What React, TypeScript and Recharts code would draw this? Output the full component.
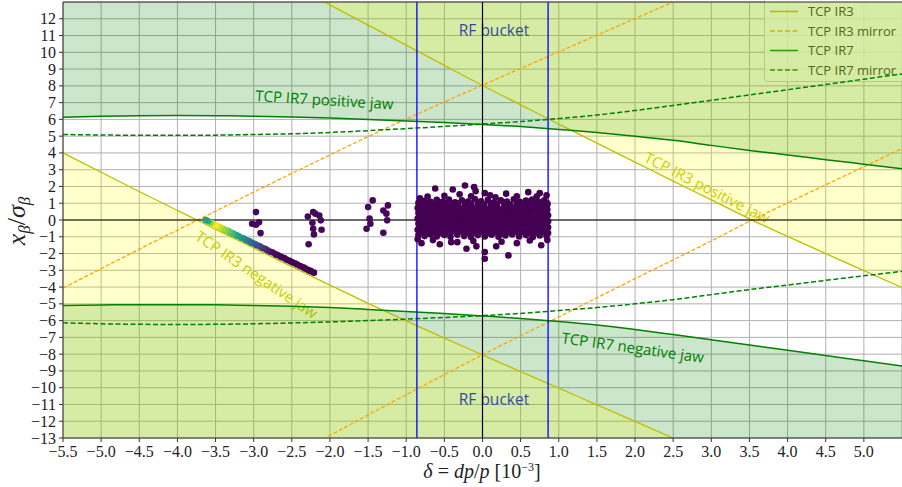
import React from "react";
import {
  ComposedChart,
  Area,
  Line,
  Scatter,
  XAxis,
  YAxis,
  CartesianGrid,
  ReferenceLine,
  Customized,
} from "recharts";

// momentum offset grid [1e-3]
const delta = [-5.5, -5, -4.5, -4, -3.5, -3, -2.5, -2, -1.5, -1, -0.5, 0, 0.5, 1, 1.5, 2, 2.5, 3, 3.5, 4, 4.5, 5, 5.5];

// TCP IR3 jaws and mirrors (x_beta / sigma)
const ir3Pos = [null, null, null, null, null, 15.25, 14.05, 12.83, 11.62, 10.43, 9.22, 8.02, 6.87, 5.72, 4.58, 3.45, 2.32, 1.2, 0.07, -0.98, -2.0, -3.02, -4.03];
const ir3Neg = [4.0, 2.85, 1.7, 0.57, -0.55, -1.67, -2.78, -3.88, -4.97, -6.02, -7.04, -8.04, -9.04, -10.03, -11.02, -12.01, -13.0, -13.98, null, null, null, null, null];
const ir3PosMirror = [null, null, null, null, null, -15.2, -14.05, -12.85, -11.62, -10.42, -9.22, -8.04, -6.9, -5.78, -4.64, -3.5, -2.38, -1.25, -0.08, 1.02, 2.1, 3.18, 4.26];
const ir3NegMirror = [-4.06, -2.9, -1.74, -0.6, 0.53, 1.66, 2.78, 3.88, 4.97, 6.02, 7.04, 8.04, 9.04, 10.03, 11.02, 12.01, 13.0, 13.98, null, null, null, null, null];

// TCP IR7 jaws and mirrors
const ir7Pos = [6.13, 6.19, 6.22, 6.23, 6.22, 6.19, 6.14, 6.08, 6.0, 5.91, 5.81, 5.7, 5.57, 5.4, 5.22, 5.0, 4.75, 4.45, 4.15, 3.88, 3.6, 3.33, 3.06];
const ir7Neg = [-5.1, -5.07, -5.05, -5.05, -5.06, -5.1, -5.14, -5.22, -5.33, -5.45, -5.58, -5.72, -5.87, -6.05, -6.26, -6.53, -6.83, -7.14, -7.46, -7.77, -8.08, -8.4, -8.71];
const ir7PosMirror = [5.1, 5.07, 5.05, 5.05, 5.06, 5.1, 5.14, 5.22, 5.33, 5.45, 5.58, 5.72, 5.87, 6.05, 6.26, 6.53, 6.83, 7.14, 7.46, 7.77, 8.08, 8.4, 8.71];
const ir7NegMirror = [-6.13, -6.19, -6.22, -6.23, -6.22, -6.19, -6.14, -6.08, -6.0, -5.91, -5.81, -5.7, -5.57, -5.4, -5.22, -5.0, -4.75, -4.45, -4.15, -3.88, -3.6, -3.33, -3.06];

const rfBucket = 0.86;

// particles inside the bucket
const bucketParticles = [
  [-0.84, 1.02], [-0.76, 1.15], [-0.68, 1.08], [-0.6, 1.2], [-0.52, 1.1], [-0.44, 1.22], [-0.36, 1.06], [-0.27, 1.18], [-0.19, 1.1], [-0.1, 1.25], [-0.02, 1.12], [0.07, 1.2], [0.15, 1.06], [0.24, 1.18], [0.32, 1.1], [0.41, 1.24], [0.49, 1.08], [0.57, 1.16], [0.65, 1.22], [0.73, 1.1], [0.81, 1.17], [0.85, 1.0],
  [-0.8, 0.96], [-0.72, 1.0], [-0.64, 0.94], [-0.56, 1.02], [-0.48, 0.92], [-0.4, 0.98], [-0.32, 1.0], [-0.23, 0.94], [-0.15, 0.98], [-0.06, 1.02], [0.02, 0.94], [0.11, 1.0], [0.19, 0.96], [0.28, 1.02], [0.36, 0.94], [0.45, 0.98], [0.53, 1.0], [0.61, 0.94], [0.69, 0.98], [0.77, 1.0], [0.85, 0.92],
  [-0.85, 0.72], [-0.77, 0.82], [-0.69, 0.76], [-0.61, 0.86], [-0.53, 0.74], [-0.45, 0.84], [-0.37, 0.78], [-0.29, 0.7], [-0.21, 0.86], [-0.13, 0.76], [-0.05, 0.82], [0.03, 0.72], [0.11, 0.84], [0.19, 0.78], [0.27, 0.7], [0.35, 0.86], [0.43, 0.76], [0.51, 0.82], [0.59, 0.72], [0.67, 0.84], [0.75, 0.78], [0.83, 0.8],
  [-0.81, 0.6], [-0.73, 0.66], [-0.65, 0.58], [-0.57, 0.64], [-0.49, 0.6], [-0.41, 0.66], [-0.33, 0.58], [-0.25, 0.62], [-0.17, 0.66], [-0.09, 0.58], [-0.01, 0.64], [0.07, 0.6], [0.15, 0.66], [0.23, 0.58], [0.31, 0.62], [0.39, 0.66], [0.47, 0.58], [0.55, 0.64], [0.63, 0.6], [0.71, 0.66], [0.79, 0.58], [0.85, 0.62],
  [-0.84, 0.42], [-0.76, 0.5], [-0.68, 0.4], [-0.6, 0.48], [-0.52, 0.38], [-0.44, 0.52], [-0.36, 0.44], [-0.28, 0.36], [-0.2, 0.5], [-0.12, 0.42], [-0.04, 0.46], [0.04, 0.38], [0.12, 0.5], [0.2, 0.42], [0.28, 0.48], [0.36, 0.38], [0.44, 0.52], [0.52, 0.44], [0.6, 0.4], [0.68, 0.5], [0.76, 0.42], [0.84, 0.46],
  [-0.8, 0.26], [-0.72, 0.3], [-0.64, 0.24], [-0.56, 0.28], [-0.48, 0.3], [-0.4, 0.24], [-0.32, 0.28], [-0.24, 0.3], [-0.16, 0.24], [-0.08, 0.28], [0.0, 0.3], [0.08, 0.24], [0.16, 0.28], [0.24, 0.3], [0.32, 0.24], [0.4, 0.28], [0.48, 0.3], [0.56, 0.24], [0.64, 0.28], [0.72, 0.3], [0.8, 0.24], [0.86, 0.28],
  [-0.85, 0.08], [-0.77, 0.14], [-0.69, 0.04], [-0.61, 0.12], [-0.53, 0.18], [-0.45, 0.06], [-0.37, 0.14], [-0.29, 0.02], [-0.21, 0.12], [-0.13, 0.16], [-0.05, 0.04], [0.03, 0.1], [0.11, 0.18], [0.19, 0.06], [0.27, 0.12], [0.35, 0.02], [0.43, 0.14], [0.51, 0.08], [0.59, 0.16], [0.67, 0.04], [0.75, 0.12], [0.84, 0.08],
  [-0.81, -0.06], [-0.73, -0.1], [-0.65, -0.04], [-0.57, -0.08], [-0.49, -0.1], [-0.41, -0.04], [-0.33, -0.08], [-0.25, -0.1], [-0.17, -0.04], [-0.09, -0.08], [-0.01, -0.1], [0.07, -0.04], [0.15, -0.08], [0.23, -0.1], [0.31, -0.04], [0.39, -0.08], [0.47, -0.1], [0.55, -0.04], [0.63, -0.08], [0.71, -0.1], [0.79, -0.04], [0.86, -0.08],
  [-0.84, -0.22], [-0.76, -0.3], [-0.68, -0.2], [-0.6, -0.28], [-0.52, -0.18], [-0.44, -0.32], [-0.36, -0.24], [-0.28, -0.16], [-0.2, -0.3], [-0.12, -0.22], [-0.04, -0.28], [0.04, -0.18], [0.12, -0.3], [0.2, -0.24], [0.28, -0.2], [0.36, -0.32], [0.44, -0.24], [0.52, -0.18], [0.6, -0.28], [0.68, -0.22], [0.76, -0.3], [0.84, -0.2],
  [-0.8, -0.4], [-0.72, -0.44], [-0.64, -0.38], [-0.56, -0.42], [-0.48, -0.46], [-0.4, -0.4], [-0.32, -0.44], [-0.24, -0.38], [-0.16, -0.42], [-0.08, -0.46], [0.0, -0.4], [0.08, -0.44], [0.16, -0.38], [0.24, -0.42], [0.32, -0.46], [0.4, -0.4], [0.48, -0.44], [0.56, -0.38], [0.64, -0.42], [0.72, -0.46], [0.8, -0.4], [0.86, -0.44],
  [-0.85, -0.58], [-0.77, -0.64], [-0.69, -0.54], [-0.61, -0.62], [-0.53, -0.68], [-0.45, -0.56], [-0.37, -0.62], [-0.29, -0.52], [-0.21, -0.66], [-0.13, -0.58], [-0.05, -0.62], [0.03, -0.54], [0.11, -0.66], [0.19, -0.6], [0.27, -0.56], [0.35, -0.64], [0.43, -0.58], [0.51, -0.68], [0.59, -0.56], [0.67, -0.62], [0.75, -0.58], [0.84, -0.64],
  [-0.81, -0.74], [-0.73, -0.78], [-0.65, -0.72], [-0.57, -0.8], [-0.49, -0.76], [-0.41, -0.72], [-0.33, -0.78], [-0.25, -0.74], [-0.17, -0.8], [-0.09, -0.76], [-0.01, -0.72], [0.07, -0.78], [0.15, -0.74], [0.23, -0.8], [0.31, -0.76], [0.39, -0.72], [0.47, -0.78], [0.55, -0.74], [0.63, -0.8], [0.71, -0.76], [0.79, -0.72], [0.86, -0.78],
  [-0.84, -0.9], [-0.76, -0.96], [-0.68, -0.86], [-0.6, -0.98], [-0.5, -0.9], [-0.42, -1.0], [-0.33, -0.88], [-0.24, -0.96], [-0.15, -1.02], [-0.06, -0.9], [0.03, -0.98], [0.12, -0.88], [0.21, -1.0], [0.3, -0.92], [0.39, -0.86], [0.48, -0.98], [0.57, -0.9], [0.66, -1.02], [0.75, -0.92], [0.84, -0.96],
  [-0.62, 1.88], [-0.39, 1.82], [-0.3, 1.53], [-0.23, 2.06], [-0.11, 1.96], [-0.09, 1.72], [0.03, 1.6], [0.1, 1.47], [0.17, 1.36], [0.31, 1.57], [0.6, 1.66], [0.71, 1.4], [0.75, 1.6], [0.84, 1.48], [-0.72, 1.4], [-0.5, 1.45], [-0.82, 1.3], [0.45, 1.42], [-0.15, 1.42],
  [0.03, -2.31], [0.03, -1.91], [0.34, -2.11], [0.18, -1.57], [-0.21, -1.71], [-0.08, -1.57], [-0.56, -1.45], [-0.8, -1.38], [0.45, -1.38], [0.77, -1.51], [-0.41, -1.32], [-0.33, -1.32], [0.62, -1.22], [-0.65, -1.2], [0.25, -1.3], [-0.12, -1.25], [0.85, -1.2], [-0.85, -1.15],
];

// particles drifting out of the bucket
const strayParticles = [
  [-1.44, 1.17], [-1.5, 0.77], [-1.3, 0.57], [-1.24, 0.87], [-1.26, 0.38], [-1.25, -0.02], [-1.48, 0.08], [-1.47, -0.22], [-1.52, -0.52], [-1.3, -0.76],
  [-2.22, 0.47], [-2.14, 0.27], [-2.29, 0.21], [-2.12, -0.02], [-2.23, -0.16], [-2.22, -0.52], [-2.11, -0.58], [-2.21, -0.86], [-2.28, -1.45], [-2.19, 0.37],
  [-2.97, 0.47], [-3.02, -0.22], [-2.97, -0.28], [-2.93, -0.13], [-2.91, -0.78],
];

// particles along the IR3 negative jaw: [delta, x, colour value]
const jawParticles = [
  [-2.21, -3.14, 0], [-2.25, -3.05, 0], [-2.28, -2.99, 0], [-2.32, -2.9, 0], [-2.35, -2.82, 0], [-2.39, -2.75, 0], [-2.43, -2.65, 0], [-2.46, -2.58, 0],
  [-2.5, -2.51, 0], [-2.53, -2.43, 0], [-2.57, -2.36, 0], [-2.6, -2.27, 0.01], [-2.64, -2.2, 0.01], [-2.68, -2.1, 0.01], [-2.71, -2.05, 0.02], [-2.75, -1.94, 0.03],
  [-2.78, -1.89, 0.05], [-2.82, -1.8, 0.08], [-2.85, -1.72, 0.11], [-2.89, -1.66, 0.15], [-2.92, -1.57, 0.19], [-2.96, -1.5, 0.23], [-2.99, -1.42, 0.27], [-3.03, -1.35, 0.32],
  [-3.06, -1.26, 0.36], [-3.1, -1.2, 0.4], [-3.13, -1.1, 0.45], [-3.16, -1.06, 0.5], [-3.2, -0.95, 0.55], [-3.23, -0.9, 0.6], [-3.27, -0.8, 0.66], [-3.3, -0.75, 0.7],
  [-3.33, -0.66, 0.75], [-3.37, -0.6, 0.8], [-3.4, -0.52, 0.85], [-3.44, -0.43, 0.9], [-3.47, -0.38, 0.95], [-3.5, -0.3, 1.0], [-3.54, -0.2, 0.95], [-3.57, -0.15, 0.8],
  [-3.6, -0.06, 0.62], [-3.63, 0.0, 0.55],
];

const xTicks = [-5.5, -5, -4.5, -4, -3.5, -3, -2.5, -2, -1.5, -1, -0.5, 0, 0.5, 1, 1.5, 2, 2.5, 3, 3.5, 4, 4.5, 5];
const yTicks = [-13, -12, -11, -10, -9, -8, -7, -6, -5, -4, -3, -2, -1, 0, 1, 2, 3, 4, 5, 6, 7, 8, 9, 10, 11, 12];

const rows = delta.map((x, i) => ({
  x,
  ir3Pos: ir3Pos[i],
  ir3Neg: ir3Neg[i],
  ir3PosMirror: ir3PosMirror[i],
  ir3NegMirror: ir3NegMirror[i],
  ir7Pos: ir7Pos[i],
  ir7Neg: ir7Neg[i],
  ir7PosMirror: ir7PosMirror[i],
  ir7NegMirror: ir7NegMirror[i],
}));

const particles = [
  ...bucketParticles.map(([x, y]) => ({ x, y, c: 0 })),
  ...strayParticles.map(([x, y]) => ({ x, y, c: 0.02 })),
  ...jawParticles.map(([x, y, c]) => ({ x, y, c })),
];

const viridisStops = ["#440154", "#482475", "#414487", "#355f8d", "#2a788e", "#21918c", "#22a884", "#44bf70", "#7ad151", "#bddf26", "#fde725"];

function viridis(t: number) {
  const s = Math.max(0, Math.min(1, t)) * 10;
  const i = Math.min(9, Math.floor(s));
  const f = s - i;
  const a = viridisStops[i];
  const b = viridisStops[i + 1];
  const ch = (h: string, k: number) => parseInt(h.slice(1 + 2 * k, 3 + 2 * k), 16);
  const mix = [0, 1, 2].map((k) => Math.round(ch(a, k) * (1 - f) + ch(b, k) * f));
  return `rgb(${mix[0]},${mix[1]},${mix[2]})`;
}

const minus = (s: string) => s.replace("-", "\u2212");

const YELLOW = "#bfbf00";
const ORANGE = "#ffa500";
const GREEN = "#008000";
const sans = "Open Sans";
const serif = "Liberation Serif";

const ParticleDot = (props: any) => {
  const { cx, cy, payload } = props;
  if (cx == null || cy == null) return null;
  return <circle cx={cx} cy={cy} r={3.3} fill={viridis(payload.c)} />;
};

const XTick = (props: any) => (
  <text x={props.x} y={props.y} dy={12} textAnchor="middle" fontFamily={serif} fontSize={16} fill="#222">
    {minus(Number(props.payload.value).toFixed(1))}
  </text>
);

const YTick = (props: any) => (
  <text x={props.x} y={props.y} dy={5.5} textAnchor="end" fontFamily={serif} fontSize={16} fill="#222">
    {minus(String(props.payload.value))}
  </text>
);

const Annotations = () => (
  <g>
    <text x={494} y={36} textAnchor="middle" fontFamily={sans} fontSize={15.5} fill="#0000ff">RF bucket</text>
    <text x={494} y={405} textAnchor="middle" fontFamily={sans} fontSize={15.5} fill="#0000ff">RF bucket</text>
    <text x={255} y={101} fontFamily={sans} fontSize={15} fill={GREEN} transform="rotate(3.5 255 101)">TCP IR7 positive jaw</text>
    <text x={561} y={343} fontFamily={sans} fontSize={15} fill={GREEN} transform="rotate(8 561 343)">TCP IR7 negative jaw</text>
    <text x={643} y={161} fontFamily={sans} fontSize={15} fill={YELLOW} transform="rotate(27 643 161)">TCP IR3 positive jaw</text>
    <text x={194} y={239} fontFamily={sans} fontSize={15} fill={YELLOW} transform="rotate(34 194 239)">TCP IR3 negative jaw</text>

    {/* legend */}
    <rect x={764.5} y={-4} width={142} height={85.5} rx={3} fill="#ffffff" fillOpacity={0.8} stroke="#cccccc" />
    <line x1={770} x2={798} y1={11.5} y2={11.5} stroke={YELLOW} strokeWidth={1.5} />
    <line x1={770} x2={798} y1={31} y2={31} stroke={ORANGE} strokeWidth={1.5} strokeDasharray="5 2.5" />
    <line x1={770} x2={798} y1={50.5} y2={50.5} stroke={GREEN} strokeWidth={1.5} />
    <line x1={770} x2={798} y1={70} y2={70} stroke={GREEN} strokeWidth={1.5} strokeDasharray="5 2.5" />
    <text x={808} y={16} fontFamily={sans} fontSize={13} fill="#333">TCP IR3</text>
    <text x={808} y={35.5} fontFamily={sans} fontSize={13} fill="#333">TCP IR3 mirror</text>
    <text x={808} y={55} fontFamily={sans} fontSize={13} fill="#333">TCP IR7</text>
    <text x={808} y={74.5} fontFamily={sans} fontSize={13} fill="#333">TCP IR7 mirror</text>

    {/* axis titles */}
    <text transform="translate(25 221) rotate(-90)" textAnchor="middle" fontFamily={serif} fontSize={26} fill="#222">
      <tspan fontStyle="italic">x</tspan>
      <tspan fontStyle="italic" fontSize={17} dy={5}>β</tspan>
      <tspan dy={-5}>/</tspan>
      <tspan fontStyle="italic">σ</tspan>
      <tspan fontStyle="italic" fontSize={17} dy={5}>β</tspan>
    </text>
    <text x={482} y={478} textAnchor="middle" fontFamily={serif} fontSize={20} fill="#222">
      <tspan fontStyle="italic">δ</tspan>
      <tspan>{" = "}</tspan>
      <tspan fontStyle="italic">dp</tspan>
      <tspan>/</tspan>
      <tspan fontStyle="italic">p</tspan>
      <tspan>{" [10"}</tspan>
      <tspan fontSize={12} dy={-7}>{"\u22123"}</tspan>
      <tspan dy={7}>]</tspan>
    </text>
  </g>
);

export default function App() {
  const ir3PosRows = rows.filter((r) => r.ir3Pos != null);
  const ir3NegRows = rows.filter((r) => r.ir3Neg != null);
  return (
    <div style={{ position: "absolute", left: 0, top: 0, width: 902, height: 487, background: "#fff" }}>
      <ComposedChart width={902} height={487} data={rows} margin={{ top: 2, right: 0, bottom: 0, left: 0 }}>
        <CartesianGrid stroke="#b0b0b0" strokeWidth={1} />
        <XAxis
          type="number"
          dataKey="x"
          domain={[-5.5, 5.5]}
          ticks={xTicks}
          interval={0}
          allowDataOverflow
          height={49}
          tickSize={4}
          tickMargin={3}
          axisLine={{ stroke: "#333" }}
          tickLine={{ stroke: "#333" }}
          tick={XTick}
        />
        <YAxis
          type="number"
          domain={[-13, 13]}
          ticks={yTicks}
          interval={0}
          allowDataOverflow
          width={63}
          tickSize={4}
          tickMargin={3}
          axisLine={{ stroke: "#333" }}
          tickLine={{ stroke: "#333" }}
          tick={YTick}
        />

        {/* collimated regions */}
        <Area type="monotone" dataKey={(r: any) => [r.ir7Pos, 16]} fill={GREEN} fillOpacity={0.2} stroke="none" isAnimationActive={false} />
        <Area type="monotone" dataKey={(r: any) => [-16, r.ir7Neg]} fill={GREEN} fillOpacity={0.2} stroke="none" isAnimationActive={false} />
        <Area type="monotone" data={ir3PosRows} dataKey={(r: any) => [r.ir3Pos, 16]} fill="#ffff00" fillOpacity={0.2} stroke="none" isAnimationActive={false} />
        <Area type="monotone" data={ir3NegRows} dataKey={(r: any) => [-16, r.ir3Neg]} fill="#ffff00" fillOpacity={0.2} stroke="none" isAnimationActive={false} />

        <Line type="monotone" dataKey="ir3Pos" stroke={YELLOW} strokeWidth={1.3} dot={false} activeDot={false} isAnimationActive={false} />
        <Line type="monotone" dataKey="ir3Neg" stroke={YELLOW} strokeWidth={1.3} dot={false} activeDot={false} isAnimationActive={false} />
        <Line type="monotone" dataKey="ir3PosMirror" stroke={ORANGE} strokeWidth={1.3} strokeDasharray="4 2" dot={false} activeDot={false} isAnimationActive={false} />
        <Line type="monotone" dataKey="ir3NegMirror" stroke={ORANGE} strokeWidth={1.3} strokeDasharray="4 2" dot={false} activeDot={false} isAnimationActive={false} />
        <Line type="monotone" dataKey="ir7Pos" stroke={GREEN} strokeWidth={1.5} dot={false} activeDot={false} isAnimationActive={false} />
        <Line type="monotone" dataKey="ir7Neg" stroke={GREEN} strokeWidth={1.5} dot={false} activeDot={false} isAnimationActive={false} />
        <Line type="monotone" dataKey="ir7PosMirror" stroke={GREEN} strokeWidth={1.5} strokeDasharray="5 2.5" dot={false} activeDot={false} isAnimationActive={false} />
        <Line type="monotone" dataKey="ir7NegMirror" stroke={GREEN} strokeWidth={1.5} strokeDasharray="5 2.5" dot={false} activeDot={false} isAnimationActive={false} />

        <Scatter data={particles} dataKey="y" shape={ParticleDot} isAnimationActive={false} />

        <ReferenceLine x={0} stroke="#000" strokeWidth={1.2} />
        <ReferenceLine y={0} stroke="#000" strokeWidth={1.2} />
        <ReferenceLine x={-rfBucket} stroke="#0000ff" strokeWidth={1.3} />
        <ReferenceLine x={rfBucket} stroke="#0000ff" strokeWidth={1.3} />
        <ReferenceLine y={13} stroke="#333" strokeWidth={1} />

        <Customized component={Annotations} />
      </ComposedChart>
    </div>
  );
}
